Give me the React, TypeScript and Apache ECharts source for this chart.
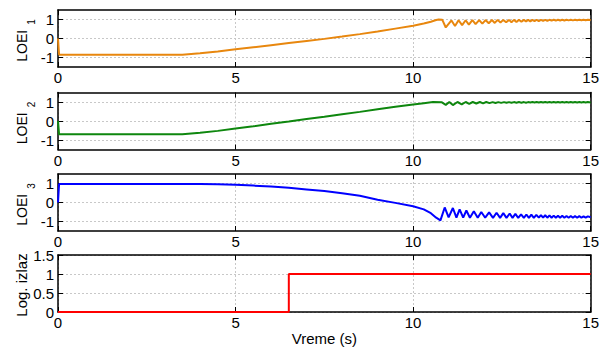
import React, { useEffect, useRef } from 'react';
import * as echarts from 'echarts';

const FONT = "'Liberation Sans', Arial, Helvetica, sans-serif";

const timeRange = [0, 15];
const timeStep = 5;
const loeiTicks = [-1, 0, 1];
const loeiRange = [-1.5, 1.5];
const logRange = [0, 1.5];
const logStep = 0.5;
const yNames = ['LOEI', 'LOEI', 'LOEI', 'Log. izlaz'];
const ySubs = ['1', '2', '3', ''];
const xName = 'Vreme (s)';
const colors = ['#E8870E', '#0E870E', '#0000FF', '#FF0000'];

const loei1: [number, number][] = [
  [0, 0], [0.03, -0.85], [3.5, -0.85], [4, -0.78], [4.5, -0.68], [5, -0.57], [5.5, -0.46], [6, -0.35],
  [6.5, -0.24], [7, -0.13], [7.5, -0.02], [8, 0.1], [8.5, 0.23], [9, 0.37], [9.5, 0.52], [10, 0.67],
  [10.3, 0.79], [10.5, 0.88], [10.65, 0.97], [10.72, 1.0], [10.82, 0.99], [10.92, 0.58],
  [11.08, 0.95], [11.18, 0.66], [11.28, 0.96], [11.38, 0.7], [11.48, 0.96], [11.57, 0.73], [11.67, 0.97],
  [11.76, 0.76], [11.86, 0.97], [11.95, 0.78], [12.04, 0.97], [12.13, 0.8], [12.22, 0.97], [12.3, 0.82],
  [12.38, 0.98], [12.46, 0.84], [12.54, 0.98], [12.62, 0.85], [12.7, 0.98], [12.77, 0.86], [12.84, 0.98],
  [12.91, 0.87], [12.98, 0.98], [13.05, 0.88], [13.12, 0.98], [13.18, 0.89], [13.24, 0.98], [13.3, 0.9],
  [13.36, 0.98], [13.42, 0.91], [13.48, 0.985], [13.54, 0.92], [13.6, 0.985], [13.66, 0.93], [13.72, 0.985],
  [13.78, 0.93], [13.84, 0.985], [13.9, 0.94], [13.96, 0.985], [14.02, 0.94], [14.08, 0.985], [14.14, 0.95],
  [14.2, 0.985], [14.26, 0.95], [14.32, 0.985], [14.38, 0.955], [14.44, 0.985], [14.5, 0.955], [14.56, 0.985],
  [14.62, 0.96], [14.68, 0.985], [14.74, 0.96], [14.8, 0.985], [14.86, 0.96], [14.92, 0.985], [15, 0.97],
];

const loei2: [number, number][] = [
  [0, 0], [0.03, -0.7], [3.5, -0.7], [4, -0.62], [4.5, -0.52], [5, -0.4], [5.5, -0.28], [6, -0.15],
  [6.5, -0.03], [7, 0.1], [7.5, 0.22], [8, 0.35], [8.5, 0.48], [9, 0.62], [9.5, 0.75], [10, 0.87],
  [10.3, 0.94], [10.56, 1.0], [10.8, 0.99], [10.92, 0.85], [11.02, 1.0], [11.12, 0.84], [11.25, 1.0],
  [11.37, 0.88], [11.48, 1.0], [11.58, 0.9], [11.68, 1.0], [11.78, 0.92], [11.88, 1.0], [11.97, 0.93],
  [12.06, 1.0], [12.15, 0.94], [12.24, 0.995], [12.32, 0.95], [12.4, 0.995], [12.48, 0.955], [12.56, 0.995],
  [12.63, 0.96], [12.7, 0.995], [12.77, 0.96], [12.84, 0.995], [12.91, 0.965], [12.98, 0.995], [13.05, 0.965],
  [13.12, 0.995], [13.18, 0.965], [13.24, 0.995], [13.3, 0.97], [13.36, 0.995], [13.42, 0.97], [13.48, 0.995],
  [13.54, 0.97], [13.6, 0.995], [13.66, 0.97], [13.72, 0.995], [13.78, 0.97], [13.84, 0.995], [13.9, 0.97],
  [13.96, 0.995], [14.02, 0.97], [14.08, 0.995], [14.14, 0.97], [14.2, 0.995], [14.26, 0.97], [14.32, 0.995],
  [14.38, 0.97], [14.44, 0.995], [14.5, 0.97], [14.56, 0.995], [14.62, 0.97], [14.68, 0.995], [14.74, 0.97],
  [14.8, 0.995], [14.86, 0.97], [14.92, 0.995], [15, 0.98],
];

const loei3: [number, number][] = [
  [0, 0], [0.03, 0.98], [3.5, 0.98], [4, 0.975], [4.5, 0.96], [5, 0.93], [5.5, 0.89], [6, 0.84],
  [6.5, 0.77], [7, 0.69], [7.5, 0.6], [8, 0.49], [8.5, 0.35], [9, 0.15], [9.5, -0.02], [10, -0.2],
  [10.3, -0.36], [10.5, -0.56], [10.65, -0.8], [10.77, -0.94], [10.89, -0.26], [11.0, -0.78], [11.12, -0.29],
  [11.22, -0.8], [11.31, -0.36], [11.41, -0.8], [11.5, -0.42], [11.6, -0.8], [11.71, -0.46], [11.82, -0.8],
  [11.92, -0.5], [12.03, -0.8], [12.14, -0.52], [12.25, -0.81], [12.35, -0.54], [12.45, -0.81], [12.54, -0.56],
  [12.63, -0.81], [12.72, -0.58], [12.8, -0.81], [12.88, -0.6], [12.96, -0.81], [13.04, -0.62], [13.12, -0.81],
  [13.19, -0.63], [13.26, -0.81], [13.33, -0.64], [13.4, -0.81], [13.47, -0.65], [13.54, -0.8], [13.6, -0.66],
  [13.66, -0.8], [13.72, -0.67], [13.78, -0.8], [13.84, -0.68], [13.9, -0.8], [13.96, -0.69], [14.02, -0.8],
  [14.08, -0.7], [14.14, -0.8], [14.2, -0.7], [14.26, -0.8], [14.32, -0.71], [14.38, -0.8], [14.44, -0.71],
  [14.5, -0.8], [14.56, -0.72], [14.62, -0.8], [14.68, -0.72], [14.74, -0.8], [14.8, -0.73], [14.86, -0.8],
  [14.92, -0.73], [15, -0.78],
];

const logOutput: [number, number][] = [
  [0, 0], [6.5, 0], [6.5, 1], [15, 1],
];

const seriesData = [loei1, loei2, loei3, logOutput];

const PANEL_TOPS = [10, 92.5, 174, 255];
const PANEL_H = 57;
const LEFT = 58;
const RIGHT = 11;

function buildOption() {
  const grid = PANEL_TOPS.map((top) => ({ left: LEFT, right: RIGHT, top, height: PANEL_H }));
  const axisLine = { show: true, onZero: false, lineStyle: { color: '#000', width: 1.5 } };
  const splitLine = { show: true, lineStyle: { color: '#c8c8c8', width: 1, type: [2, 2] } };
  const xAxis: any[] = [];
  const yAxis: any[] = [];
  PANEL_TOPS.forEach((_, i) => {
    xAxis.push({
      gridIndex: i, type: 'value', position: 'bottom', min: timeRange[0], max: timeRange[1], interval: timeStep,
      axisLine, axisTick: { show: true, inside: true, length: 5, lineStyle: { color: '#000', width: 1 } },
      axisLabel: { show: true, color: '#000', fontSize: 15, fontFamily: FONT, margin: 3 },
      splitLine,
      ...(i === 3 ? { name: xName, nameLocation: 'middle', nameGap: 19, nameTextStyle: { color: '#000', fontSize: 15, fontFamily: FONT } } : {}),
    });
    xAxis.push({
      gridIndex: i, type: 'value', position: 'top', min: timeRange[0], max: timeRange[1], interval: timeStep,
      axisLine, axisTick: { show: true, inside: true, length: 5, lineStyle: { color: '#000', width: 1 } },
      axisLabel: { show: false }, splitLine: { show: false },
    });
    const isLog = i === 3;
    const yBase: any = isLog
      ? { min: logRange[0], max: logRange[1], interval: logStep }
      : { min: loeiRange[0], max: loeiRange[1] };
    const tickExtra = isLog ? {} : { customValues: loeiTicks };
    yAxis.push({
      gridIndex: i, type: 'value', position: 'left', ...yBase,
      axisLine, axisTick: { show: true, inside: true, length: 5, lineStyle: { color: '#000', width: 1 }, ...tickExtra },
      axisLabel: { show: true, color: '#000', fontSize: 15, fontFamily: FONT, margin: 4, ...tickExtra },
      splitLine,
    });
    yAxis.push({
      gridIndex: i, type: 'value', position: 'right', ...yBase,
      axisLine, axisTick: { show: true, inside: true, length: 5, lineStyle: { color: '#000', width: 1 }, ...tickExtra },
      axisLabel: { show: false }, splitLine: { show: false },
    });
  });

  const series = seriesData.map((data, i) => ({
    type: 'line', xAxisIndex: 2 * i, yAxisIndex: 2 * i, data, symbol: 'none', showSymbol: false,
    lineStyle: { color: colors[i], width: 2 }, itemStyle: { color: colors[i] }, clip: i !== 3,
    z: 3,
  }));

  const graphic: any[] = [];
  PANEL_TOPS.forEach((top, i) => {
    if (ySubs[i]) {
      graphic.push({
        type: 'text', x: 22.3, y: top + 35.8, rotation: Math.PI / 2,
        style: { text: yNames[i], fontSize: 14, fontFamily: FONT, fill: '#000', align: 'center', verticalAlign: 'middle' },
      });
      graphic.push({
        type: 'text', x: 31.5, y: top + 12, rotation: Math.PI / 2,
        style: { text: ySubs[i], fontSize: 10, fontFamily: FONT, fill: '#000', align: 'center', verticalAlign: 'middle' },
      });
    } else {
      graphic.push({
        type: 'text', x: 21.5, y: top + 30, rotation: Math.PI / 2,
        style: { text: yNames[i], fontSize: 15, fontFamily: FONT, fill: '#000', align: 'center', verticalAlign: 'middle' },
      });
    }
  });

  return { animation: false, backgroundColor: '#fff', grid, xAxis, yAxis, series, graphic };
}

export default function App() {
  const ref = useRef<HTMLDivElement>(null);
  useEffect(() => {
    const chart = echarts.init(ref.current!, null, { renderer: 'svg' });
    chart.setOption(buildOption() as any);
    return () => chart.dispose();
  }, []);
  return (
    <div
      ref={ref}
      style={{ position: 'absolute', left: 0, top: 0, width: 602, height: 347, background: '#fff' }}
    />
  );
}
